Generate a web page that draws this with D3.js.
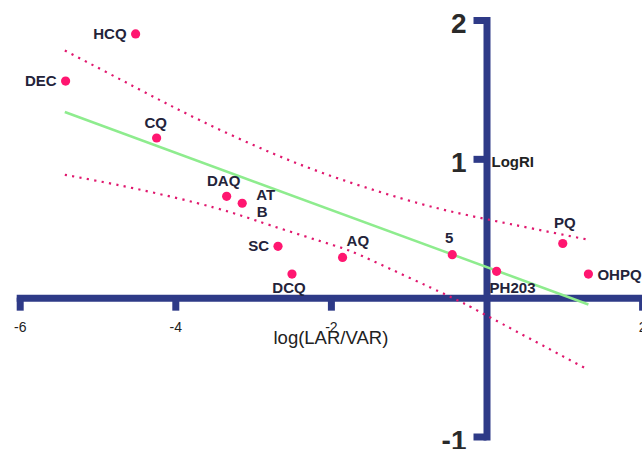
<!DOCTYPE html>
<html>
<head>
<meta charset="utf-8">
<script src="https://cdn.jsdelivr.net/npm/d3@7"></script>
<style>
    body { margin: 0; background: #fff; }
    svg { display: block; font-family: "Liberation Sans", Arial, sans-serif; }
</style>
</head>
<body>
<script>
// compounds and their values
const compounds = ['HCQ', 'DEC', 'CQ', 'DAQ', 'ATB', 'SC', 'DCQ', 'AQ', '5', 'PH203', 'PQ', 'OHPQ'];
const logLarVar = [-4.51, -5.41, -4.24, -3.34, -3.14, -2.68, -2.50, -1.85, -0.44, 0.13, 0.98, 1.31];
const logRI     = [1.90, 1.56, 1.15, 0.73, 0.68, 0.37, 0.17, 0.29, 0.31, 0.19, 0.39, 0.17];

// regression line end points
const fitX = [-5.42, 1.31];
const fitY = [1.337, -0.049];

// dotted bands
const upperBandX = [-5.42, -4.52, -3.68, -2.76, -1.86, -0.86, 0.02, 1.31];
const upperBandY = [1.781, 1.517, 1.277, 1.042, 0.850, 0.678, 0.563, 0.417];
const lowerBandX = [-5.42, -4.52, -3.50, -2.78, -1.97, -1.48, -0.51, -0.03, 1.31];
const lowerBandY = [0.885, 0.786, 0.649, 0.522, 0.378, 0.270, 0.018, -0.119, -0.520];

// axis ticks
const xTicks = [-6, -4, -2, 2];
const yTicks = [-1, 1, 2];

// where each label sits next to its dot
const labelPlace = {
    'HCQ':   {anchor: 'end',    dx: -9,  dy: 5},
    'DEC':   {anchor: 'end',    dx: -9,  dy: 5},
    'CQ':    {anchor: 'middle', dx: -1,  dy: -10},
    'DAQ':   {anchor: 'middle', dx: -3,  dy: -10},
    'ATB':   {anchor: 'start',  dx: 14,  dy: -3, split: 2},
    'SC':    {anchor: 'end',    dx: -9,  dy: 5},
    'DCQ':   {anchor: 'middle', dx: -3,  dy: 19},
    'AQ':    {anchor: 'start',  dx: 4,   dy: -11},
    '5':     {anchor: 'middle', dx: -3,  dy: -12},
    'PH203': {anchor: 'start',  dx: -7,  dy: 22},
    'PQ':    {anchor: 'middle', dx: 2,   dy: -16},
    'OHPQ':  {anchor: 'start',  dx: 9,   dy: 6}
};

let width = 642,
    height = 449,
    axisColor = '#2e3a87',
    dotColor = '#ff1670';

let svg = d3.select('body').append('svg')
    .attr('width', width)
    .attr('height', height);

let xScale = d3.scaleLinear().domain([-6, 2]).range([19.7, 642.1]),
    yScale = d3.scaleLinear().domain([-1, 2]).range([436.5, 20]);

// plain hyphen for negatives, like the original
let fmt = d => String(d);

// x axis through y = 0
let xAxis = svg.append('g')
    .attr('transform', `translate(0,${yScale(0)})`)
    .call(d3.axisBottom(xScale).tickValues(xTicks).tickSizeInner(13).tickSizeOuter(0).tickFormat(fmt));
// y axis through x = 0
let yAxis = svg.append('g')
    .attr('transform', `translate(${xScale(0)},0)`)
    .call(d3.axisLeft(yScale).tickValues(yTicks).tickSizeInner(13).tickSizeOuter(0).tickFormat(fmt));

[xAxis, yAxis].forEach(a => {
    a.select('.domain')
        .attr('stroke', axisColor)
        .attr('stroke-width', 7)
        .attr('stroke-linecap', 'square');
    a.selectAll('.tick line')
        .attr('stroke', axisColor)
        .attr('stroke-width', 7);
});
xAxis.selectAll('.tick line').attr('y1', 0);
yAxis.selectAll('.tick line').attr('x1', 0);

xAxis.selectAll('.tick text')
    .attr('y', 24)
    .attr('dy', '0.71em')
    .attr('fill', '#222')
    .style('font-size', '14px')
    .style('font-family', '"Liberation Sans", Arial, sans-serif');
yAxis.selectAll('.tick text')
    .attr('x', -20)
    .attr('dy', '0.45em')
    .attr('fill', '#2a2a2a')
    .style('font-size', '28px')
    .style('font-weight', 'bold')
    .style('font-family', '"Liberation Sans", Arial, sans-serif');

// axis titles
svg.append('text')
    .attr('x', xScale(-2))
    .attr('y', 344)
    .attr('text-anchor', 'middle')
    .attr('fill', '#222')
    .style('font-size', '18.5px')
    .text('log(LAR/VAR)');
svg.append('text')
    .attr('x', xScale(0) + 5)
    .attr('y', yScale(1) + 8.5)
    .attr('fill', '#222')
    .style('font-size', '15px')
    .style('font-weight', 'bold')
    .text('LogRI');

// dotted bands
let band = d3.line().x(d => xScale(d[0])).y(d => yScale(d[1])).curve(d3.curveNatural);
[[upperBandX, upperBandY], [lowerBandX, lowerBandY]].forEach(([bx, by]) => {
    svg.append('path')
        .datum(bx.map((v, i) => [v, by[i]]))
        .attr('d', band)
        .attr('fill', 'none')
        .attr('stroke', '#e0186e')
        .attr('stroke-width', 2.2)
        .attr('stroke-dasharray', '2.2,5.3');
});

// regression line
svg.append('path')
    .datum(fitX.map((v, i) => [v, fitY[i]]))
    .attr('d', d3.line().x(d => xScale(d[0])).y(d => yScale(d[1])))
    .attr('stroke', '#8eec8e')
    .attr('stroke-width', 2.5);

// dots
let pts = compounds.map((c, i) => ({name: c, x: logLarVar[i], y: logRI[i]}));
svg.selectAll('circle.pt')
    .data(pts)
    .enter().append('circle')
    .classed('pt', true)
    .attr('cx', d => xScale(d.x))
    .attr('cy', d => yScale(d.y))
    .attr('r', 4.6)
    .attr('fill', dotColor);

// labels
let labels = svg.selectAll('text.lbl')
    .data(pts)
    .enter().append('text')
    .classed('lbl', true)
    .attr('text-anchor', d => labelPlace[d.name].anchor)
    .attr('fill', '#23233a')
    .style('font-size', '15px')
    .style('font-weight', 'bold');
labels.each(function(d){
    let p = labelPlace[d.name],
        t = d3.select(this),
        x0 = xScale(d.x) + p.dx,
        y0 = yScale(d.y) + p.dy;
    if(p.split){
        t.append('tspan').attr('x', x0).attr('y', y0).text(d.name.slice(0, p.split));
        t.append('tspan').attr('x', x0 + 0.5).attr('y', y0 + 17).text(d.name.slice(p.split));
    } else {
        t.attr('x', x0).attr('y', y0).text(d.name);
    }
});
</script>
</body>
</html>
